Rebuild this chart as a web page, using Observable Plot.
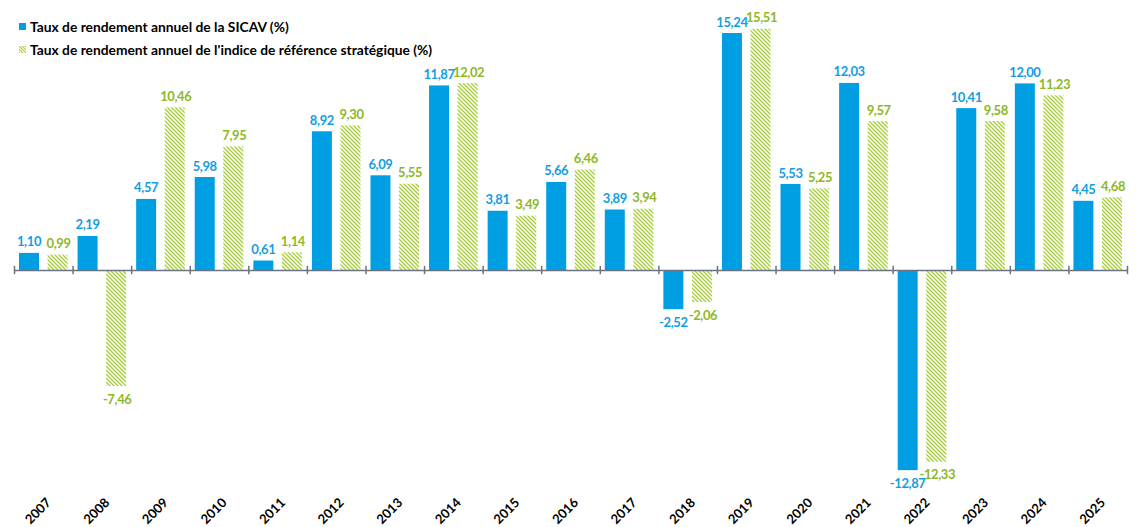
<!DOCTYPE html>
<html>
<head>
<meta charset="utf-8">
<script src="https://cdn.jsdelivr.net/npm/d3@7"></script>
<script src="https://cdn.jsdelivr.net/npm/@observablehq/plot@0.6"></script>
<style>
  html, body { margin: 0; padding: 0; background: #fff; }
  #wrap { position: relative; width: 1141px; height: 527px; font-family: Lato, "Open Sans", sans-serif; }
  #legend { position: absolute; left: 19px; top: 15px; font-weight: bold; font-size: 13.8px; color: #000; }
  .item { display: flex; align-items: center; height: 23px; }
  .sw { width: 7px; height: 7px; margin-right: 4px; flex: none; }
  #chart svg text.val { letter-spacing: -0.4px; }
</style>
</head>
<body>
<div id="wrap">
  <div id="chart"></div>
  <div id="legend">
    <div class="item"><span class="sw" style="background:#009FE3"></span><span>Taux de rendement annuel de la SICAV (%)</span></div>
    <div class="item"><svg class="sw" width="7" height="7" viewBox="0 0 7 7"><defs><pattern id="hatchL" patternUnits="userSpaceOnUse" width="3" height="3"><path d="M-1,-1L4,4M-1,2L1,4M2,-1L4,1" stroke="#A6CE39" stroke-width="1.1"/></pattern></defs><rect width="7" height="7" fill="url(#hatchL)"/></svg><span>Taux de rendement annuel de l'indice de référence stratégique (%)</span></div>
  </div>
</div>
<script>
const years = ["2007","2008","2009","2010","2011","2012","2013","2014","2015","2016","2017","2018","2019","2020","2021","2022","2023","2024","2025"];
const sicav = [1.10, 2.19, 4.57, 5.98, 0.61, 8.92, 6.09, 11.87, 3.81, 5.66, 3.89, -2.52, 15.24, 5.53, 12.03, -12.87, 10.41, 12.00, 4.45];
const indice = [0.99, -7.46, 10.46, 7.95, 1.14, 9.30, 5.55, 12.02, 3.49, 6.46, 3.94, -2.06, 15.51, 5.25, 9.57, -12.33, 9.58, 11.23, 4.68];

const blue = "#009FE3";
const blueText = "#149DDF";
const greenText = "#8DB81F";
const hatch = "#A6CE39";

const dataS = years.map((y, i) => ({year: y, v: sicav[i]}));
const dataI = years.map((y, i) => ({year: y, v: indice[i]}));
const fmt = v => v.toFixed(2).replace(".", ",");

function defs() {
  const ns = "http://www.w3.org/2000/svg";
  const d = document.createElementNS(ns, "defs");
  d.innerHTML = `<pattern id="hatch" patternUnits="userSpaceOnUse" width="4" height="4">
    <path d="M-1,-1L5,5M-1,3L1,5M3,-1L5,1" stroke="${hatch}" stroke-width="1.3"/></pattern>`;
  return d;
}

const W = 1141, H = 527;
const step = (1127 - 14) / years.length;
const fs = 13;

const chart = Plot.plot({
  width: W,
  height: H,
  marginLeft: 14,
  marginRight: 14,
  marginTop: 0,
  marginBottom: 0,
  style: {fontFamily: "Lato, 'Open Sans', sans-serif", background: "transparent"},
  x: {type: "band", domain: years, padding: 0, round: false, axis: null},
  y: {domain: [-16.527, 17.363], axis: null},
  marks: [
    defs,
    Plot.barY(dataS, {x: "year", y: "v", fill: blue, insetLeft: 5, insetRight: step - 25}),
    Plot.barY(dataI, {x: "year", y: "v", fill: "url(#hatch)", insetLeft: step - 25, insetRight: 5}),
    Plot.ruleY([0], {stroke: "#6B7383", strokeWidth: 1.5}),
    Plot.ruleX(years, {x: d => d, dx: -step / 2, y1: -0.27, y2: 0.27, stroke: "#6B7383", strokeWidth: 1.5}),
    Plot.ruleX([years[years.length - 1]], {x: d => d, dx: step / 2, y1: -0.27, y2: 0.27, stroke: "#6B7383", strokeWidth: 1.5}),
    Plot.text(dataS, {x: "year", y: "v", text: d => fmt(d.v), dx: -14.8, fill: blueText, fontWeight: "bold", fontSize: fs,
      filter: d => d.v >= 0, lineAnchor: "bottom", dy: -7, className: "val"}),
    Plot.text(dataS, {x: "year", y: "v", text: d => fmt(d.v), dx: -14.8, fill: blueText, fontWeight: "bold", fontSize: fs,
      filter: d => d.v < 0, lineAnchor: "top", dy: 8, className: "val"}),
    Plot.text(dataI, {x: "year", y: "v", text: d => fmt(d.v), dx: 14.8, fill: greenText, fontWeight: "bold", fontSize: fs,
      filter: d => d.v >= 0, lineAnchor: "bottom", dy: -7, className: "val"}),
    Plot.text(dataI, {x: "year", y: "v", text: d => fmt(d.v), dx: 14.8, fill: greenText, fontWeight: "bold", fontSize: fs,
      filter: d => d.v < 0, lineAnchor: "top", dy: 8, className: "val"}),
    Plot.text(years, {x: d => d, text: d => d, frameAnchor: "bottom", rotate: -45, textAnchor: "end", dy: -24, dx: 8,
      fill: "#000", fontWeight: "bold", fontSize: 13})
  ]
});
chart.querySelectorAll("g.val text, text.val").forEach(t => t.classList.add("val"));
document.getElementById("chart").appendChild(chart);
</script>
</body>
</html>
